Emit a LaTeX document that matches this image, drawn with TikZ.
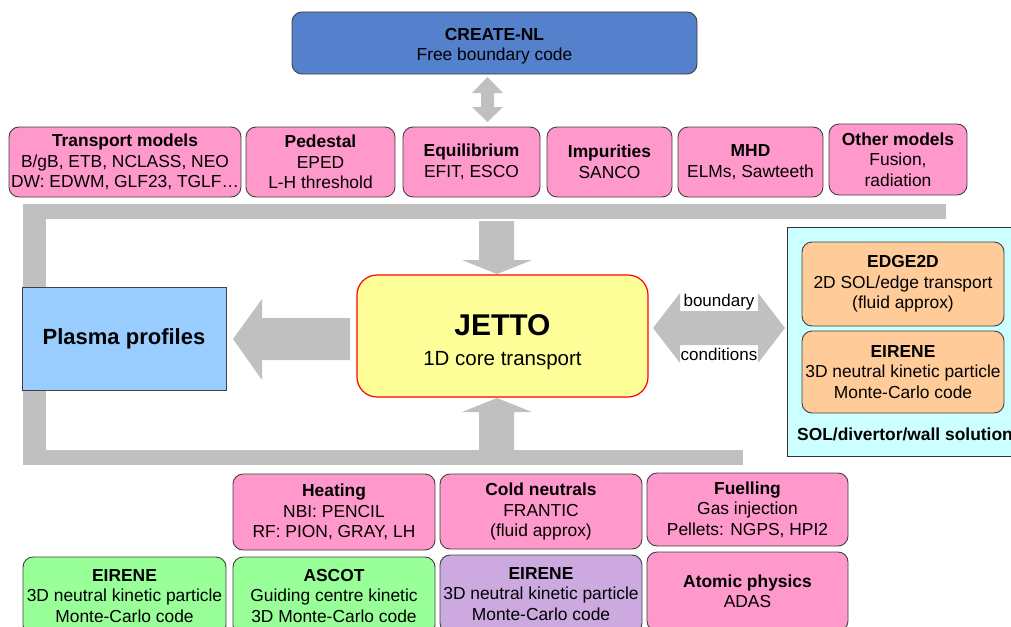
\documentclass[tikz,border=0pt]{standalone}
\usepackage{fontspec}
\setmainfont{Liberation Sans}
\newcommand{\txt}{\fontsize{17.4}{20.5}\selectfont}
\definecolor{modpink}{HTML}{FF99CC}
\definecolor{modgreen}{HTML}{99FF99}
\definecolor{modpurple}{HTML}{CCAAE0}
\definecolor{modpeach}{HTML}{FFCC99}
\definecolor{modblue}{HTML}{5580CC}
\definecolor{solcyan}{HTML}{CCFFFF}
\definecolor{profblue}{HTML}{99CCFF}
\definecolor{jettoyellow}{HTML}{FFFF99}
\definecolor{flowgray}{HTML}{C0C0C0}
\begin{document}
\begin{tikzpicture}[x=1pt,y=-1pt,
	module/.style={draw=black!75, line width=0.9pt, rounded corners=10pt, align=center, inner sep=0pt, font=\txt},
	pinkbox/.style={module, fill=modpink},
	greenbox/.style={module, fill=modgreen},
	peachbox/.style={module, fill=modpeach},
	flow/.style={fill=flowgray},
	bclabel/.style={fill=white, inner sep=1pt, font=\fontsize{17}{19}\selectfont}]
\useasboundingbox (0,0) rectangle (1011,626);
\clip (0,0) rectangle (1011,626);
% gray feedback loop
\fill[flow] (23,204) rectangle (946,219);
\fill[flow] (23,204) rectangle (46,287);
\fill[flow] (23,390) rectangle (46,465);
\fill[flow] (23,450) rectangle (743,465);
% block arrows
\fill[flow] (481,93) -- (472,93) -- (487.5,77) -- (503,93) -- (494,93) -- (494,107) -- (503,107) -- (487.5,122) -- (472,107) -- (481,107) -- cycle;
\fill[flow] (479,221) -- (514,221) -- (514,260) -- (532,260) -- (497,274) -- (462,260) -- (479,260) -- cycle;
\fill[flow] (479,450) -- (479,412) -- (462,412) -- (497,398) -- (532,412) -- (514,412) -- (514,450) -- cycle;
\fill[flow] (350,318) -- (262,318) -- (262,299) -- (233,339) -- (262,380) -- (262,360) -- (350,360) -- cycle;
\fill[flow] (653,328) -- (680,293) -- (680,311) -- (758,311) -- (758,293) -- (785,328) -- (758,363) -- (758,345) -- (680,345) -- (680,363) -- cycle;
\node[bclabel] (bclabelA) at (719,302) {boundary};
\node[bclabel] (bclabelB) at (719,354) {conditions};

% free boundary code
\node[module, fill=modblue, minimum width=405, minimum height=62] (create) at (494.5,43)
	{\rule{0pt}{19pt}\textbf{CREATE-NL}\\Free boundary code};

% physics modules, top row
\node[pinkbox, minimum width=232, minimum height=70] (transport) at (125,162)
	{\textbf{Transport models}\\B/gB, ETB, NCLASS, NEO\\DW: EDWM, GLF23, TGLF…};
\node[pinkbox, minimum width=149, minimum height=70] (pedestal) at (320.5,162)
	{\textbf{Pedestal}\\EPED\\L-H threshold};
\node[pinkbox, minimum width=137, minimum height=70] (equil) at (471.5,162)
	{\textbf{Equilibrium}\\EFIT, ESCO};
\node[pinkbox, minimum width=125, minimum height=70] (impur) at (609.5,162)
	{\textbf{Impurities}\\SANCO};
\node[pinkbox, minimum width=145, minimum height=70] (mhd) at (750.5,162)
	{\textbf{MHD}\\ELMs, Sawteeth};
\node[pinkbox, minimum width=138, minimum height=71] (other) at (898,159.5)
	{\textbf{Other models}\\Fusion,\\radiation};

% core
\node[draw=black!75, line width=0.9pt, fill=profblue, minimum width=204, minimum height=103,
	font=\fontsize{22}{26}\selectfont\bfseries] (profiles) at (124,338.5) {Plasma profiles};
\node[draw=red, line width=1.2pt, fill=jettoyellow, rounded corners=20pt, minimum width=291,
	minimum height=122, align=center, font=\fontsize{30}{30}\selectfont] (jetto) at (502.5,336)
	{\rule{0pt}{34pt}\textbf{JETTO}\\{\fontsize{20.5}{24}\selectfont 1D core transport}};

% SOL / divertor / wall
\node[draw=black!80, line width=0.9pt, fill=solcyan, minimum width=250, minimum height=229] (solpanel) at (912,341.5) {};
\node[peachbox, minimum width=202, minimum height=84] (edge2d) at (903,284)
	{\textbf{EDGE2D}\\2D SOL/edge transport\\(fluid approx)};
\node[peachbox, minimum width=202, minimum height=82] (eireneS) at (903,372)
	{\textbf{EIRENE}\\3D neutral kinetic particle\\Monte-Carlo code};
\node[anchor=west, inner sep=0pt, font=\txt\bfseries] (sollabel) at (797,434) {SOL/divertor/wall solution};

% sources, bottom rows
\node[pinkbox, minimum width=202, minimum height=76] (heating) at (334,512)
	{\textbf{Heating}\\NBI: PENCIL\\RF: PION, GRAY, LH};
\node[pinkbox, minimum width=202, minimum height=75] (coldn) at (541,511.5)
	{\textbf{Cold neutrals}\\FRANTIC\\(fluid approx)};
\node[pinkbox, minimum width=201, minimum height=73] (fuel) at (747.5,509.5)
	{\textbf{Fuelling}\\Gas injection\\Pellets: NGPS, HPI2};
\node[greenbox, minimum width=203, minimum height=78] (eireneH) at (124.5,596)
	{\textbf{EIRENE}\\3D neutral kinetic particle\\Monte-Carlo code};
\node[greenbox, minimum width=202, minimum height=78] (ascot) at (334,596)
	{\textbf{ASCOT}\\Guiding centre kinetic\\3D Monte-Carlo code};
\node[module, fill=modpurple, minimum width=202, minimum height=78] (eireneN) at (541,594)
	{\textbf{EIRENE}\\3D neutral kinetic particle\\Monte-Carlo code};
\node[pinkbox, minimum width=201, minimum height=79] (atomic) at (747.5,591.5)
	{\textbf{Atomic physics}\\ADAS};
\end{tikzpicture}
\end{document}
